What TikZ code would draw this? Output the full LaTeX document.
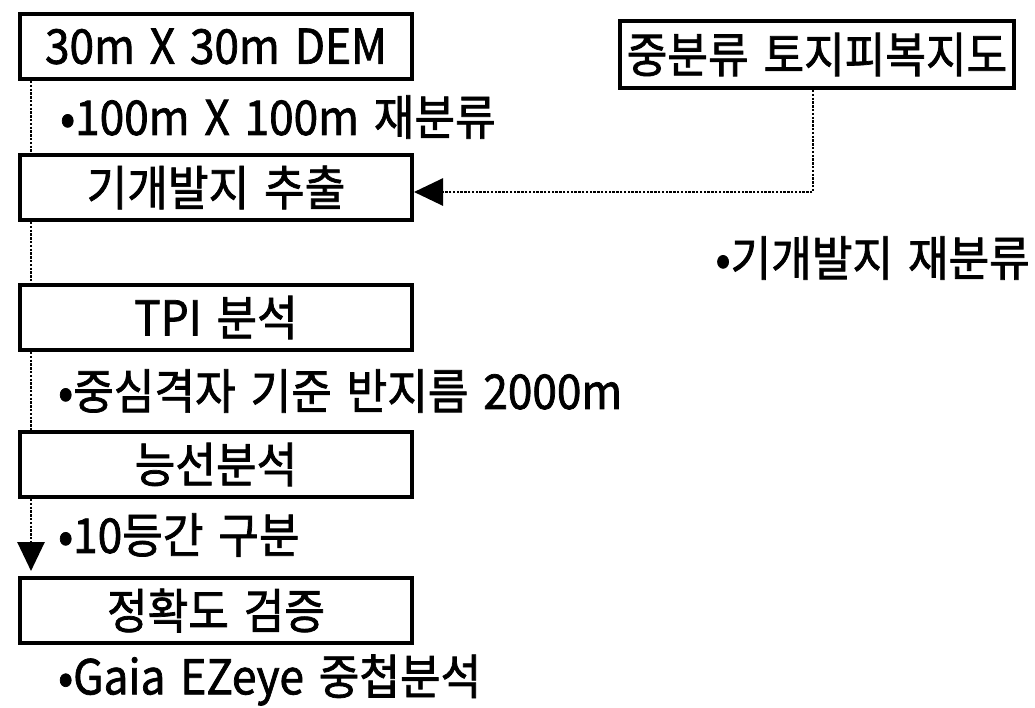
\documentclass[tikz,border=0pt]{standalone}
\usepackage{fontspec}
\setmainfont{Noto Sans CJK KR}[FakeStretch=0.92, FakeBold=1.5, WordSpace=1.5]
\usetikzlibrary{arrows.meta}
\newcommand\kfont{\fontsize{48pt}{52pt}\selectfont}
\begin{document}
\begin{tikzpicture}[x=1pt,y=-1pt,
  box/.style={draw, line width=4pt, minimum width=392pt, minimum height=65pt, inner sep=0pt, font=\kfont},
  lbl/.style={anchor=west, inner sep=0pt, font=\kfont},
  dotline/.style={line width=2.8pt, dash pattern=on 2.4pt off 1.4pt},
  tip/.style={-{Triangle[width=27pt,length=29pt]}}]
\useasboundingbox (0,0) rectangle (1035,707);
\node[box] (A) at (216,46.5) {30m X 30m DEM};
\node[box] (B) at (216,187.5) {기개발지 추출};
\node[box] (C) at (216,317.5) {TPI 분석};
\node[box] (D) at (216,464.5) {능선분석};
\node[box] (E) at (216,610.5) {정확도 검증};
\node[box, minimum width=394pt, minimum height=67pt] (R) at (817,54.5) {중분류 토지피복지도};
\node[lbl] (L1) at (60,117) {•100m X 100m 재분류};
\node[lbl, anchor=east] (L2) at (1030,258) {•기개발지 재분류};
\node[lbl] (L3) at (58,391) {•중심격자 기준 반지름 2000m};
\node[lbl] (L4) at (58,535) {•10등간 구분};
\node[lbl] (L5) at (58,680) {•Gaia EZeye 중첩분석};
\draw[dotline] ([xshift=13pt]A.south west) -- ([xshift=13pt]B.north west);
\draw[dotline] ([xshift=13pt]B.south west) -- ([xshift=13pt]C.north west);
\draw[dotline] ([xshift=13pt]C.south west) -- ([xshift=13pt]D.north west);
\draw[dotline, tip, shorten >=5pt] ([xshift=13pt]D.south west) -- ([xshift=13pt]E.north west);
\draw[dotline, tip] ([xshift=-4pt]R.south) |- ([yshift=-4.5pt]B.east);
\end{tikzpicture}
\end{document}
